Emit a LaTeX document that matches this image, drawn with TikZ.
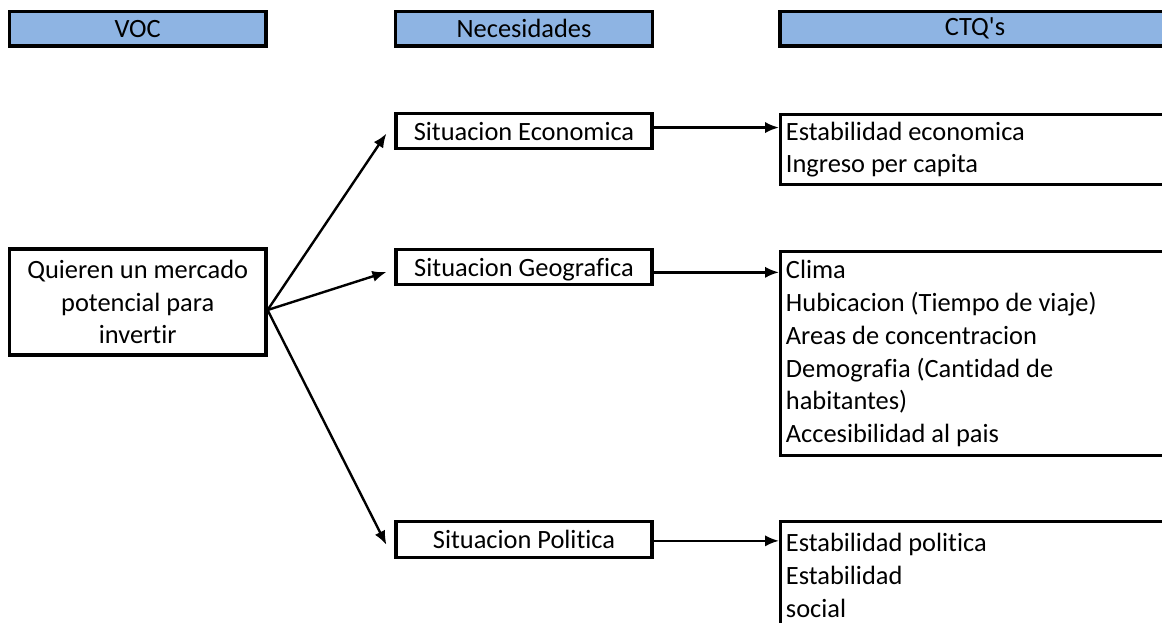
\documentclass[tikz,border=0pt]{standalone}
\usepackage{fontspec}
\setmainfont{Carlito}[Ligatures=NoCommon]
\usetikzlibrary{arrows.meta}
\definecolor{hdrblue}{HTML}{8EB4E3}
\begin{document}
\begin{tikzpicture}[x=0.75pt,y=-0.75pt,
                    every node/.style={font=\fontsize{19.8}{24.6}\selectfont},
                    hdr/.style={draw,line width=2.4pt,fill=hdrblue,minimum width=192.4pt,minimum height=26pt,inner sep=0pt},
                    box/.style={draw,line width=2.4pt,minimum width=192pt,minimum height=26.5pt,inner sep=0pt,text depth=0pt},
                    ctq/.style={draw,line width=2.4pt,anchor=north west,align=flush left,text width=300pt,inner xsep=4pt,inner ysep=0pt},
                    goto/.style={-{Latex[length=10.5pt,width=8.5pt]},line width=1.8pt}]
\useasboundingbox (0,0) rectangle (1162,622);
\clip (0,0) rectangle (1162,622);
% headers
\node[hdr] (voc) at (137.7,28.7) {VOC};
\node[hdr] (nec) at (524,28.7) {Necesidades};
\node[hdr,minimum width=292.5pt] (ctqs) at (975,28.7) {CTQ\textquotesingle s};
% VOC
\node[draw,line width=2.4pt,minimum width=192.4pt,minimum height=79.5pt,inner sep=0pt,align=center] (quieren) at (137.7,302)
  {Quieren un mercado\\potencial para\\invertir};
% necesidades
\node[box] (econ) at (524,131) {Situacion Economica};
\node[box] (geog) at (524,267) {Situacion Geografica};
\node[box,minimum height=27.5pt] (pol) at (524,539.5) {Situacion Politica};
% CTQ's
\node[ctq,minimum height=52.5pt] (ctq1) at (779,113)
  {Estabilidad economica\\Ingreso per capita};
\node[ctq,minimum height=153pt] (ctq2) at (779,250)
  {Clima\\Hubicacion (Tiempo de viaje)\\Areas de concentracion\\Demografia (Cantidad de\\habitantes)\\Accesibilidad al pais};
\node[ctq,minimum height=81pt] (ctq3) at (779,520)
  {Estabilidad politica\\Estabilidad\\social};
% arrows
\draw[goto] ([yshift=-6pt]quieren.east) -- ([xshift=-6pt,yshift=-1.9pt]econ.west);
\draw[goto] ([yshift=-6pt]quieren.east) -- ([xshift=-6pt,yshift=-3.75pt]geog.west);
\draw[goto] ([yshift=-6pt]quieren.east) -- ([xshift=-6pt,yshift=-4pt]pol.west);
\draw[goto] ([yshift=2.6pt]econ.east) -- ([yshift=2.6pt]econ.east -| ctq1.west);
\draw[goto] ([yshift=-4pt]geog.east) -- ([yshift=-4pt]geog.east -| ctq2.west);
\draw[goto] ([yshift=-1pt]pol.east) -- ([yshift=-1pt]pol.east -| ctq3.west);
\end{tikzpicture}
\end{document}
